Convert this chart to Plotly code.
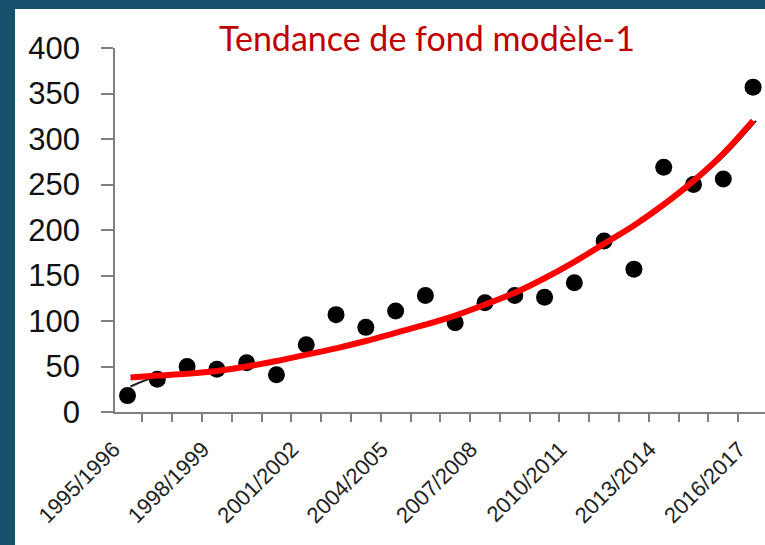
import plotly.graph_objects as go

# saisons (une par point)
seasons = [
    "1995/1996", "1996/1997", "1997/1998", "1998/1999", "1999/2000", "2000/2001",
    "2001/2002", "2002/2003", "2003/2004", "2004/2005", "2005/2006", "2006/2007",
    "2007/2008", "2008/2009", "2009/2010", "2010/2011", "2011/2012", "2012/2013",
    "2013/2014", "2014/2015", "2015/2016", "2016/2017",
]
observed = [18, 36, 50, 47, 54, 41, 74, 107, 93, 111, 128, 98,
            120, 128, 126, 142, 188, 157, 269, 250, 256, 357]
trend = [38, 40, 42, 45, 50, 56, 63, 70, 78, 87, 96, 106,
         118, 131, 147, 165, 185, 205, 228, 254, 284, 320]
# fine black fit underneath the red one (only visible at the start)
trend_black = [28] + trend[1:]

label_every = 3

idx = list(range(len(seasons)))

fig = go.Figure()

# background frame: dark blue slide with white panel
fig.add_shape(type="rect", xref="paper", yref="paper",
              x0=-0.1538, x1=1.05, y0=-0.4, y1=1.107,
              fillcolor="#ffffff", line=dict(width=0), layer="below")

fig.add_trace(go.Scatter(
    x=[i + 0.1 for i in idx], y=trend_black,
    mode="lines", line=dict(color="#222222", width=2, shape="spline"),
    showlegend=False, hoverinfo="skip", cliponaxis=False,
))

fig.add_trace(go.Scatter(
    x=idx, y=observed,
    mode="markers",
    marker=dict(size=17, color="#000000"),
    showlegend=False, cliponaxis=False,
    text=seasons, hovertemplate="%{text}: %{y}<extra></extra>",
))

fig.add_trace(go.Scatter(
    x=[i + 0.1 if i == 0 else i for i in idx], y=trend,
    mode="lines", line=dict(color="#ff0000", width=6, shape="spline"),
    showlegend=False, hoverinfo="skip", cliponaxis=False,
))

fig.add_annotation(
    text="Tendance de fond modèle-1",
    xref="paper", yref="paper",
    x=0.48, y=1.03, xanchor="center", yanchor="middle",
    showarrow=False,
    font=dict(family="Lato", size=34, color="#c00000"),
)

fig.update_layout(
    width=765, height=545,
    margin=dict(l=115, r=0, t=48, b=133),
    paper_bgcolor="#15506d",
    plot_bgcolor="#ffffff",
    showlegend=False,
    xaxis=dict(
        range=[-0.42, 21.4],
        tickmode="array",
        tickvals=idx[::label_every],
        ticktext=seasons[::label_every],
        tickangle=-45,
        ticks="",
        ticklabelstandoff=14,
        ticklabelshift=-14,
        tickfont=dict(family="Liberation Sans", size=22, color="#222222"),
        showline=True, linecolor="#7f7f7f", linewidth=1.5,
        showgrid=False, zeroline=False,
        minor=dict(tick0=-0.5, dtick=1, ticks="outside", ticklen=8,
                   tickcolor="#7f7f7f", tickwidth=1.5, showgrid=False),
    ),
    yaxis=dict(
        range=[0, 400],
        tickvals=[0, 50, 100, 150, 200, 250, 300, 350, 400],
        ticks="outside", ticklen=12, tickcolor="#7f7f7f", tickwidth=1.5,
        ticklabelstandoff=15,
        tickfont=dict(family="Liberation Sans", size=31, color="#111111"),
        showline=True, linecolor="#7f7f7f", linewidth=1.5,
        showgrid=False, zeroline=False,
    ),
)

fig.write_html(
    "out.html",
    config={"displayModeBar": False},
    post_script="document.body.style.margin='0';"
                "document.body.style.overflow='hidden';"
                "document.body.style.background='#15506d';",
)
